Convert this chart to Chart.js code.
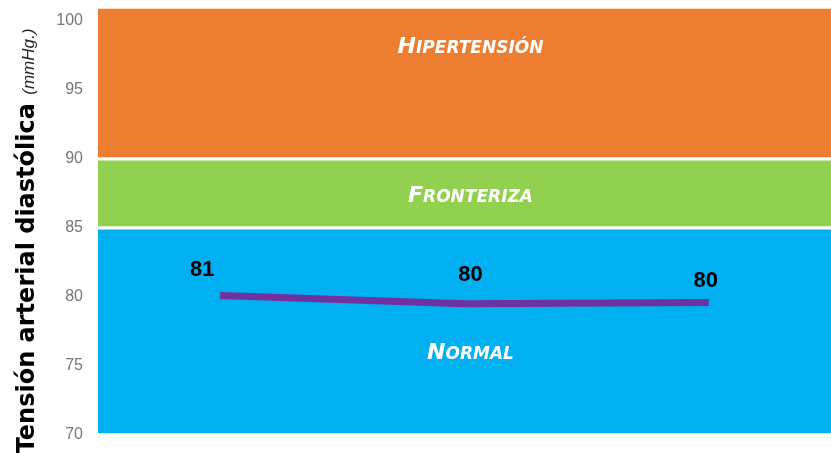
<!DOCTYPE html>
<html>
<head>
<meta charset="utf-8">
<script src="https://cdn.jsdelivr.net/npm/chart.js@4.4.1/dist/chart.umd.min.js"></script>
<style>
  html, body { margin: 0; padding: 0; background: #fff; }
  #wrap { width: 831px; height: 453px; }
</style>
</head>
<body>
<div id="wrap"><canvas id="chart"></canvas></div>
<script>
// readings (x axis is hidden in the original)
const readings = ["1", "2", "3"];
const diastolic = [80.1, 79.5, 79.6];
const diastolicLabels = ["81", "80", "80"];

// reference bands
const bandNames = ["Normal", "Fronteriza", "Hipertensión"];
const bandFrom = [70, 85, 90];
const bandTo = [85, 90, 101];
const bandColors = ["#00B0F0", "#92D050", "#ED7D31"];
const bandLabelAt = [75.5, 86.9, 97.7];

const yTicks = [70, 75, 80, 85, 90, 95, 100];

// small caps like Excel: first letter big, rest smaller uppercase
function drawSmallCaps(ctx, text, cx, baseline) {
    const big = "italic bold 22px 'DejaVu Sans'";
    const small = "italic bold 17px 'DejaVu Sans'";
    const first = text[0].toUpperCase();
    const rest = text.slice(1).toUpperCase();
    ctx.font = big;
    const w1 = ctx.measureText(first).width;
    ctx.font = small;
    const w2 = ctx.measureText(rest).width;
    let x = cx - (w1 + w2) / 2;
    ctx.textAlign = "left";
    ctx.textBaseline = "alphabetic";
    ctx.font = big;
    ctx.fillText(first, x, baseline);
    ctx.font = small;
    ctx.fillText(rest, x + w1, baseline);
}

const bandText = {
    id: "bandText",
    afterDatasetsDraw(chart) {
        const { ctx, chartArea, scales } = chart;
        const cx = (chartArea.left + chartArea.right) / 2 + 6;
        ctx.save();
        ctx.fillStyle = "#ffffff";
        bandNames.forEach((name, i) => {
            drawSmallCaps(ctx, name, cx, scales.y.getPixelForValue(bandLabelAt[i]));
        });
        ctx.restore();
    }
};

const pointLabels = {
    id: "pointLabels",
    afterDatasetsDraw(chart, args, opts) {
        const { ctx } = chart;
        const meta = chart.getDatasetMeta(3);
        ctx.save();
        ctx.font = "bold 22px 'Liberation Sans'";
        ctx.fillStyle = "#000";
        ctx.textAlign = "center";
        ctx.textBaseline = "middle";
        meta.data.forEach((pt, i) => {
            const s = opts.shift[i];
            ctx.fillText(diastolicLabels[i], pt.x + s[0], pt.y + s[1]);
        });
        ctx.restore();
    }
};

const yTitle = {
    id: "yTitle",
    afterDraw(chart) {
        const { ctx, chartArea } = chart;
        const boldPart = "Tensión arterial diastólica ";
        const italPart = "(mmHg.)";
        const boldFont = "bold 24px 'DejaVu Sans'";
        const italFont = "italic 17px 'Liberation Sans'";
        ctx.save();
        ctx.translate(34, (chartArea.top + chartArea.bottom) / 2 + 20);
        ctx.rotate(-Math.PI / 2);
        ctx.textBaseline = "alphabetic";
        ctx.textAlign = "left";
        ctx.font = boldFont;
        const wb = ctx.measureText(boldPart).width;
        ctx.font = italFont;
        const wi = ctx.measureText(italPart).width;
        let x = -(wb + wi) / 2;
        ctx.font = boldFont;
        ctx.fillStyle = "#000";
        ctx.fillText(boldPart, x, 0);
        ctx.font = italFont;
        ctx.fillStyle = "#262626";
        ctx.fillText(italPart, x + wb, 0);
        ctx.restore();
    }
};

const bandSets = bandNames.map((name, i) => ({
    type: "bar",
    label: name,
    xAxisID: "xBand",
    data: [[bandFrom[i], bandTo[i]]],
    backgroundColor: bandColors[i],
    borderColor: "#ffffff",
    borderWidth: { top: 2, bottom: 2, left: 0, right: 0 },
    borderSkipped: false,
    grouped: false,
    barPercentage: 1,
    categoryPercentage: 1,
    order: 2
}));

new Chart(document.getElementById("chart"), {
    type: "bar",
    data: {
        labels: readings,
        datasets: [
            ...bandSets,
            {
                type: "line",
                label: "Tensión diastólica",
                xAxisID: "x",
                data: diastolic,
                borderColor: "#7030A0",
                borderWidth: 7,
                pointRadius: 0,
                tension: 0,
                order: 0
            }
        ]
    },
    options: {
        responsive: true,
        maintainAspectRatio: false,
        animation: false,
        layout: { padding: { top: 7, bottom: 18, left: 0, right: 0 } },
        plugins: {
            legend: { display: false },
            tooltip: { enabled: false },
            pointLabels: { shift: [[-18, -26], [6, -29], [-3, -22]] }
        },
        scales: {
            x: { type: "category", offset: true, display: false },
            xBand: { type: "category", labels: ["banda"], offset: true, display: false },
            y: {
                min: 70,
                max: 101,
                grid: { display: false, drawTicks: false },
                border: { display: false },
                afterBuildTicks: (axis) => {
                    axis.ticks = yTicks.map(v => ({ value: v }));
                },
                afterFit: (axis) => {
                    axis.width = 98;
                    axis.paddingTop = 0;
                    axis.paddingBottom = 0;
                },
                ticks: {
                    color: "#767676",
                    padding: 15,
                    font: { family: "'Liberation Sans'", size: 16 }
                }
            }
        }
    },
    plugins: [bandText, pointLabels, yTitle]
});
</script>
</body>
</html>
